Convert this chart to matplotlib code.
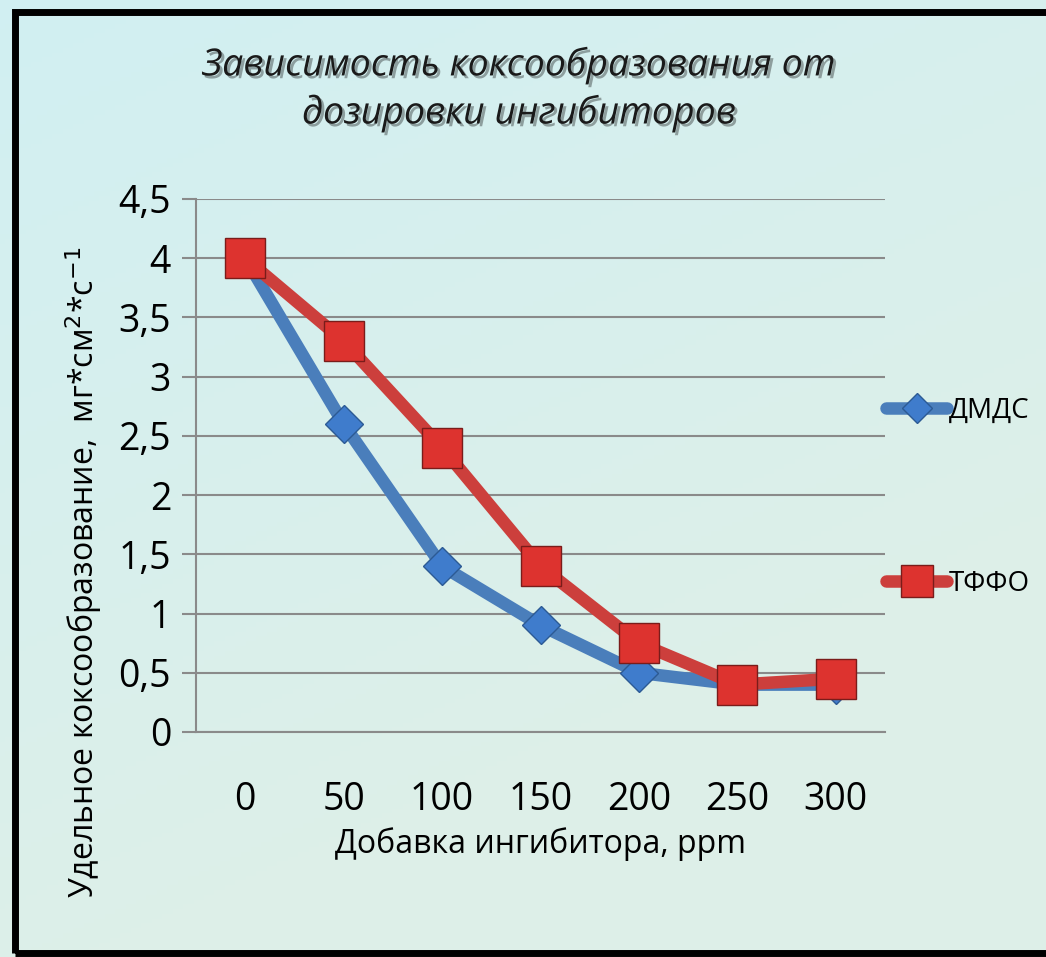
import numpy as np
import matplotlib
matplotlib.use("Agg")
import matplotlib.pyplot as plt
import matplotlib.patheffects as pe
from matplotlib.patches import Rectangle

categories = ["0", "50", "100", "150", "200", "250", "300"]
dmds = [4.0, 2.6, 1.4, 0.9, 0.5, 0.4, 0.4]
tffo = [4.0, 3.3, 2.4, 1.4, 0.75, 0.4, 0.45]
yticks = [0, 0.5, 1, 1.5, 2, 2.5, 3, 3.5, 4, 4.5]
ytick_labels = ["0", "0,5", "1", "1,5", "2", "2,5", "3", "3,5", "4", "4,5"]

W, H = 1046, 957
fig = plt.figure(figsize=(W / 100, H / 100), dpi=100)

# background gradient
bg = fig.add_axes([0, 0, 1, 1], zorder=-10)
yy, xx = np.mgrid[0:1:200j, 0:1:200j]
t = np.clip(0.45 * xx + 0.9 * yy, 0, 1)
c1 = np.array([0.82, 0.94, 0.95])
c2 = np.array([0.87, 0.94, 0.91])
img = c1[None, None, :] * (1 - t[..., None]) + c2[None, None, :] * t[..., None]
bg.imshow(img, extent=[0, 1, 0, 1], aspect="auto", origin="upper")
bg.set_xlim(0, 1); bg.set_ylim(0, 1)
bg.axis("off")
# black frame
bg.add_patch(Rectangle((15 / W, 4 / H), 1.2, 1 - 16 / H, fill=False,
                       edgecolor="black", linewidth=5, transform=bg.transAxes))

ax = fig.add_axes([196 / W, 1 - 732 / H, (885 - 196) / W, (732 - 199) / H])
ax.patch.set_alpha(0)
x = np.arange(len(categories))
blue = "#4a7ebb"
red = "#cc3f3c"
ax.plot(x, dmds, color=blue, lw=9, marker="D", markersize=19,
        markerfacecolor="#3f7ccc", markeredgecolor="#2c5a94", markeredgewidth=1,
        label="ДМДС", zorder=3, solid_capstyle="round", solid_joinstyle="round")
ax.plot(x, tffo, color=red, lw=9, marker="s", markersize=29,
        markerfacecolor="#dd332f", markeredgecolor="#7a1c1a", markeredgewidth=1,
        label="ТФФО", zorder=4, solid_capstyle="round", solid_joinstyle="round")

ax.set_xlim(-0.5, len(categories) - 0.5)
ax.set_ylim(0, 4.5)
ax.set_yticks(yticks)
ax.set_yticklabels(ytick_labels)
ax.set_xticks(x)
ax.set_xticklabels(categories)
ax.grid(axis="y", color="#8a8a8a", lw=1.5)
ax.set_axisbelow(True)
for s in ["top", "right"]:
    ax.spines[s].set_visible(False)
ax.spines["left"].set_color("#8a8a8a"); ax.spines["left"].set_linewidth(1.5)
ax.spines["bottom"].set_color("#8a8a8a"); ax.spines["bottom"].set_linewidth(1.5)
ax.tick_params(axis="y", length=10, width=1.5, color="#8a8a8a", pad=8,
               labelsize=27)
ax.tick_params(axis="x", length=0, pad=35, labelsize=27)
for lab in ax.get_xticklabels() + ax.get_yticklabels():
    lab.set_fontfamily("Open Sans")

ax.set_xlabel("Добавка ингибитора, ppm", fontsize=23, family="Open Sans",
              labelpad=6)
ax.set_ylabel("Удельное коксообразование,  мг*см$^2$*с$^{-1}$", fontsize=23,
              family="Open Sans")
ax.yaxis.set_label_coords(-0.134, 0.30)

title_fx = [pe.withSimplePatchShadow(offset=(2, -2), alpha=0.35)]
fig.text(0.496, 1 - 65 / H, "Зависимость коксообразования от", ha="center",
         va="center", fontsize=27, style="italic", family="Open Sans",
         color="#1a1a1a", path_effects=title_fx)
fig.text(0.496, 1 - 113 / H, "дозировки ингибиторов", ha="center",
         va="center", fontsize=27, style="italic", family="Open Sans",
         color="#1a1a1a", path_effects=title_fx)

leg = fig.legend(loc="upper left", bbox_to_anchor=(875 / W, 1 - 386 / H),
                 frameon=False, handlelength=2.2, borderaxespad=0,
                 handletextpad=0.05, labelspacing=5.2, markerscale=0.8,
                 prop={"family": "Open Sans", "size": 20})
for line in leg.get_lines():
    line.set_linewidth(9)

fig.savefig("out.png", dpi=100)
